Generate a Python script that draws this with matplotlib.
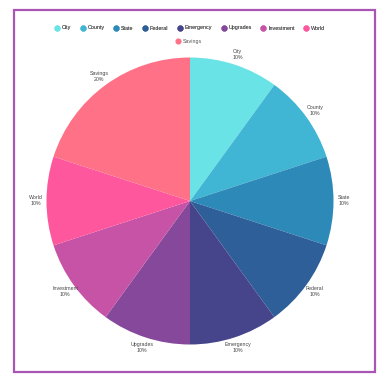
import matplotlib
matplotlib.use("Agg")
import matplotlib.pyplot as plt
from matplotlib.lines import Line2D
from matplotlib.patches import Rectangle

categories = ["City", "County", "State", "Federal", "Emergency", "Upgrades", "Investment", "World", "Savings"]
values = [10, 10, 10, 10, 10, 10, 10, 10, 20]
colors = ["#6ae3e6", "#41b6d4", "#2d8ab8", "#2e5f98", "#46458c", "#86489a", "#c653a5", "#fe579d", "#fe7187"]

plt.rcParams['font.family'] = ['Liberation Sans', 'DejaVu Sans']

fig = plt.figure(figsize=(3.9, 3.84), dpi=100)
ax = fig.add_axes([46.5/390, 39.5/384, 287/390, 287/384])

total = sum(values)
labels = [f"{c}\n{v/total*100:.0f}%" for c, v in zip(categories, values)]
wedges, texts = ax.pie(values, colors=colors, labels=labels, startangle=90, counterclock=False,
                       labeldistance=1.075, radius=1,
                       textprops=dict(fontsize=3.8, color="#444444", linespacing=1.25),
                       wedgeprops=dict(linewidth=0))
for t in texts:
    t.set_horizontalalignment("center")
    t.set_verticalalignment("center")
ax.set_xlim(-1, 1)
ax.set_ylim(-1, 1)
ax.set_aspect("equal")
ax.axis("off")

handles = [Line2D([], [], marker="o", linestyle="none", markersize=3.4,
                  markerfacecolor=c, markeredgecolor=c) for c in colors]
leg1 = fig.legend(handles[:8], categories[:8], loc="center", bbox_to_anchor=(190/390, 1 - 28/384),
                  ncol=8, frameon=False, fontsize=3.9, handlelength=0.8, handletextpad=0.5,
                  columnspacing=1.7, labelcolor="#555555")
fig.add_artist(leg1)
leg2 = fig.legend(handles[8:], categories[8:], loc="center", bbox_to_anchor=(189/390, 1 - 41/384),
                  ncol=1, frameon=False, fontsize=3.9, handlelength=0.8, handletextpad=0.5,
                  labelcolor="#555555")

fig.add_artist(Rectangle((14/390, 1 - 372/384), (375 - 14)/390, (372 - 10)/384,
                         transform=fig.transFigure, fill=False, edgecolor="#a855b5", linewidth=1.6))

fig.savefig("out.png", dpi=100)
